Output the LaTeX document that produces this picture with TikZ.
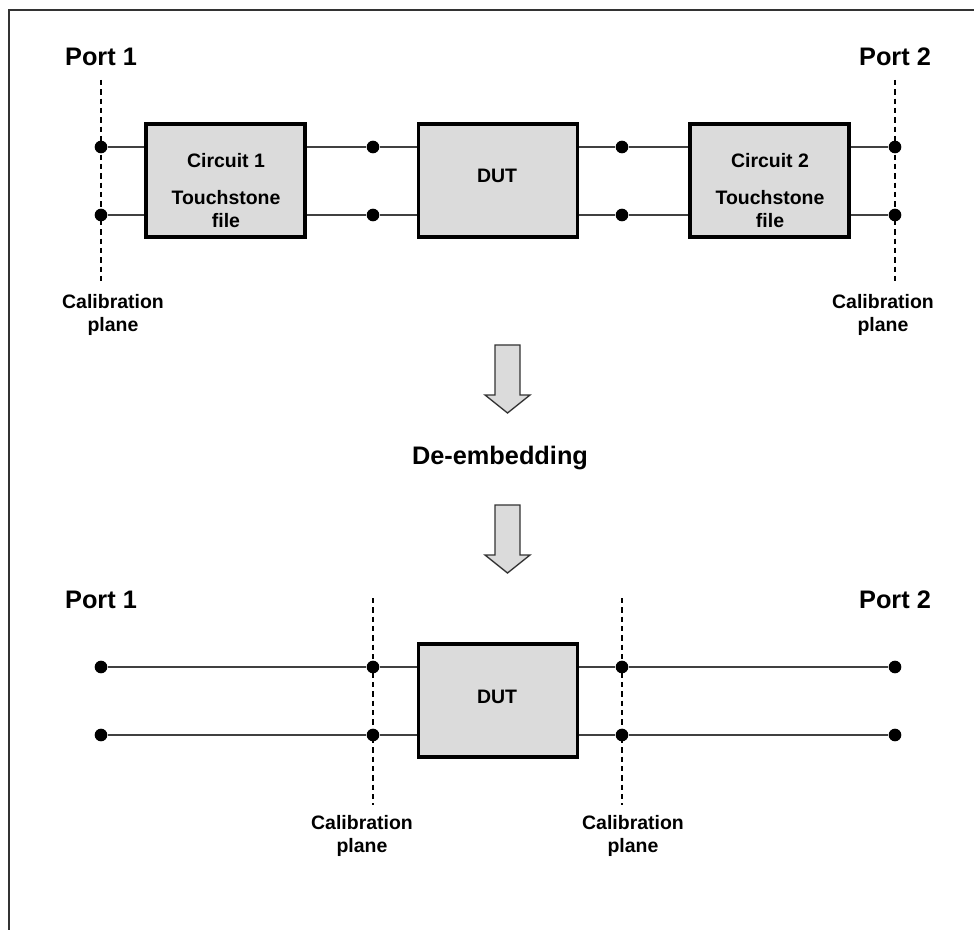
\documentclass[tikz,border=0pt]{standalone}
\usepackage{fontspec}
\setmainfont{Liberation Sans}
\begin{document}
\begin{tikzpicture}[x=0.75pt,y=-0.75pt,
  blk/.style={draw=black,line width=2.4pt,fill=black!14,minimum width=159*0.75pt,minimum height=113*0.75pt,inner sep=0pt},
  dotn/.style={circle,fill=black,inner sep=0pt,minimum size=9.5pt},
  wire/.style={draw=black!75,line width=1.1pt},
  plane/.style={draw=black,dashed,line width=0.9pt,dash pattern=on 4pt off 3pt},
  port/.style={font=\bfseries\fontsize{19}{22}\selectfont},
  lbl/.style={font=\bfseries\fontsize{14.6}{17.5}\selectfont,align=center,inner sep=0pt},
  barrow/.style={draw=black!80,line width=1pt,fill=black!14,line join=miter}]
\useasboundingbox (0,0) rectangle (974,930);
\draw[line width=1pt,black!80] (9,930) -- (9,10) -- (974,10);

% ---------- top ----------
\node[port] (p1t) at (101,57) {Port 1};
\node[port] (p2t) at (895,57) {Port 2};
\coordinate (lt1) at (101,80); \coordinate (lb1) at (101,283);
\coordinate (rt1) at (895,80); \coordinate (rb1) at (895,283);
\draw[plane] (lt1) -- (lb1);
\draw[plane] (rt1) -- (rb1);

\node[blk] (c1) at (225.5,180.5) {};
\node[blk] (dut1) at (498,180.5) {};
\node[blk] (c2) at (769.5,180.5) {};
\node[lbl] at (226,161) {Circuit 1};
\node[lbl] at (226,209) {Touchstone\\file};
\node[lbl] at (770,161) {Circuit 2};
\node[lbl] at (770,209) {Touchstone\\file};
\node[lbl] at (497,176) {DUT};

\node[dotn] (a1) at (101,147) {};
\node[dotn] (a2) at (101,215) {};
\node[dotn] (b1) at (373,147) {};
\node[dotn] (b2) at (373,215) {};
\node[dotn] (d1) at (622,147) {};
\node[dotn] (d2) at (622,215) {};
\node[dotn] (e1) at (895,147) {};
\node[dotn] (e2) at (895,215) {};

\draw[wire] (a1) -- (c1.west |- a1);
\draw[wire] (a2) -- (c1.west |- a2);
\draw[wire] (c1.east |- b1) -- (b1) -- (dut1.west |- b1);
\draw[wire] (c1.east |- b2) -- (b2) -- (dut1.west |- b2);
\draw[wire] (dut1.east |- d1) -- (d1) -- (c2.west |- d1);
\draw[wire] (dut1.east |- d2) -- (d2) -- (c2.west |- d2);
\draw[wire] (c2.east |- e1) -- (e1);
\draw[wire] (c2.east |- e2) -- (e2);

\node[lbl] (cal1) at (113,315) {Calibration\\plane};
\node[lbl] (cal2) at (883,315) {Calibration\\plane};

% ---------- arrows ----------
\draw[barrow] (495,345) -- (520,345) -- (520,395) -- (530,395) -- (507.5,413) -- (485,395) -- (495,395) -- cycle;
\node[font=\bfseries\fontsize{19}{22}\selectfont] (de) at (500,458) {De-embedding};
\draw[barrow] (495,505) -- (520,505) -- (520,555) -- (530,555) -- (507.5,573) -- (485,555) -- (495,555) -- cycle;

% ---------- bottom ----------
\node[port] (p1b) at (101,600) {Port 1};
\node[port] (p2b) at (895,600) {Port 2};
\coordinate (lt2) at (373,598); \coordinate (lb2) at (373,805);
\coordinate (rt2) at (622,598); \coordinate (rb2) at (622,805);
\draw[plane] (lt2) -- (lb2);
\draw[plane] (rt2) -- (rb2);

\node[blk] (dut2) at (498,700.5) {};
\node[lbl] at (497,697) {DUT};

\node[dotn] (f1) at (101,667) {};
\node[dotn] (f2) at (101,735) {};
\node[dotn] (g1) at (373,667) {};
\node[dotn] (g2) at (373,735) {};
\node[dotn] (h1) at (622,667) {};
\node[dotn] (h2) at (622,735) {};
\node[dotn] (k1) at (895,667) {};
\node[dotn] (k2) at (895,735) {};

\draw[wire] (f1) -- (g1) -- (dut2.west |- g1);
\draw[wire] (f2) -- (g2) -- (dut2.west |- g2);
\draw[wire] (dut2.east |- h1) -- (h1) -- (k1);
\draw[wire] (dut2.east |- h2) -- (h2) -- (k2);

\node[lbl] (cal3) at (362,836) {Calibration\\plane};
\node[lbl] (cal4) at (633,836) {Calibration\\plane};
\end{tikzpicture}
\end{document}
